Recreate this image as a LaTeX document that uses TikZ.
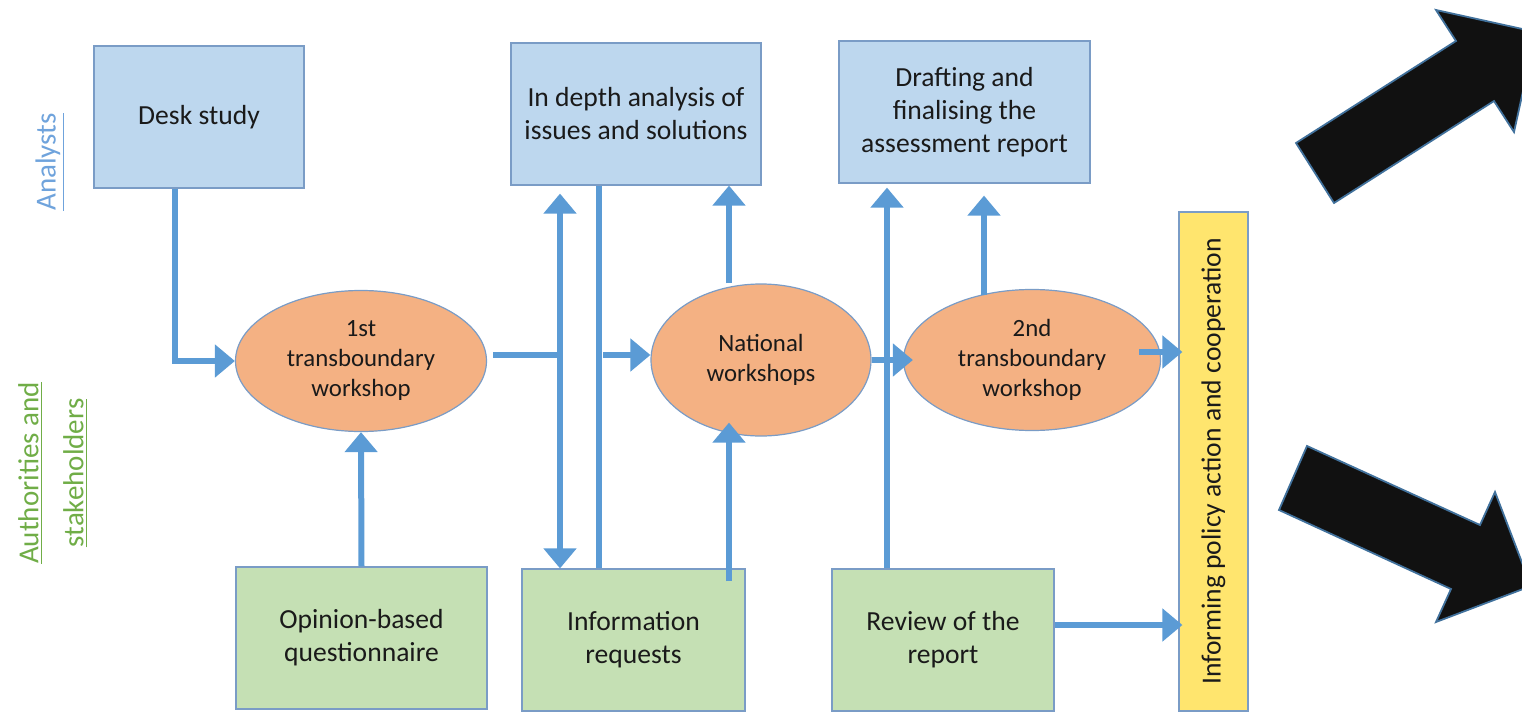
\documentclass[tikz,border=0pt]{standalone}
\usepackage{fontspec}
\setmainfont{Carlito}
\usetikzlibrary{arrows.meta,shapes.geometric,calc}
\definecolor{boxblue}{HTML}{BDD7EE}
\definecolor{boxgreen}{HTML}{C5E0B4}
\definecolor{ellorange}{HTML}{F4B183}
\definecolor{infoyellow}{HTML}{FFE56E}
\definecolor{edge}{HTML}{7A9CC6}
\definecolor{conn}{HTML}{5B9BD5}
\definecolor{labblue}{HTML}{6FA3DC}
\definecolor{labgreen}{HTML}{70AD47}
\definecolor{txt}{HTML}{1A1A1A}
\definecolor{bigarrow}{HTML}{111111}
\definecolor{bigedge}{HTML}{41719C}
\begin{document}
\begin{tikzpicture}[x=0.5pt,y=-0.5pt,
 box/.style={draw=edge, line width=0.6pt, rectangle, align=center, inner sep=2pt, text=txt, font=\fontsize{13.8}{16.5}\selectfont},
 bluebox/.style={box, fill=boxblue},
 greenbox/.style={box, fill=boxgreen},
 workshop/.style={ellipse, draw=edge, line width=0.6pt, fill=ellorange, inner sep=0pt, align=center, text=txt, font=\fontsize{12.4}{15}\selectfont},
 link/.style={draw=conn, line width=3pt},
 arr/.style={link, -{Triangle[width=16pt,length=10pt]}},
 dblarr/.style={link, {Triangle[width=16pt,length=10pt]}-{Triangle[width=16pt,length=10pt]}},
 big/.style={fill=bigarrow, draw=bigedge, line width=0.9pt, line join=miter},
 lane/.style={rotate=90, align=center, font=\fontsize{14.5}{22.5}\selectfont}
]
\useasboundingbox (0,0) rectangle (1522,712);

% lane labels
\node[lane, text=labblue] (lanea) at (50,162) {\underline{Analysts}};
\node[lane, text=labgreen] (laneb) at (53,473) {\underline{Authorities and}\\\underline{stakeholders}};

% analyst boxes
\node[bluebox, minimum width=105pt, minimum height=71pt] (desk) at (199,117) {Desk study};
\node[bluebox, minimum width=125pt, minimum height=71pt] (depth) at (636,114) {In depth analysis of\\issues and solutions};
\node[bluebox, minimum width=125.5pt, minimum height=71pt] (draft) at (964.5,112) {Drafting and\\finalising the\\assessment report};

% workshops
\node[workshop, minimum width=125.5pt, minimum height=70.5pt] (e1) at (361,361) {1st\\transboundary\\workshop};
\node[workshop, minimum width=110pt, minimum height=76pt] (nat) at (761,360) {National\\workshops};
\node[workshop, minimum width=128.5pt, minimum height=70.5pt] (e2) at (1032,360) {2nd\\transboundary\\workshop};

% stakeholder boxes
\node[greenbox, minimum width=125.5pt, minimum height=71pt] (opin) at (361.5,638) {Opinion-based\\questionnaire};
\node[greenbox, minimum width=111.5pt, minimum height=71pt] (info) at (633.5,640) {Information\\requests};
\node[greenbox, minimum width=111pt, minimum height=71pt] (review) at (943,640) {Review of the\\report};

% outcome
\node[box, fill=infoyellow, rotate=90, minimum width=249.5pt, minimum height=34.5pt] (inform) at (1213.5,461.5) {Informing policy action and cooperation};

% helper coordinates
\coordinate (j1) at (560,355);
\coordinate (j2) at (599,355);
\coordinate (a3) at (729,0);
\coordinate (a6) at (887,0);
\coordinate (a7) at (984,0);

% connectors
\draw[arr] ([xshift=-12pt]desk.south) |- (e1.west);
\draw[arr] (opin.north) -- (e1.south);
\draw[link] ([xshift=3pt]e1.east |- j1) -- (j1);
\draw[dblarr] ([yshift=-4pt]depth.south -| j1) -- (info.north -| j1);
\draw[link] (depth.south -| j2) -- (info.north -| j2);
\draw[arr] ([xshift=2pt]j2) -- (nat.west |- j2);
\draw[arr] (nat.north -| a3) -- (depth.south -| a3);
\draw[arr] ([yshift=-6.5pt]info.north -| a3) -- ([yshift=7pt]nat.south -| a3);
\draw[arr] (nat.east) -- ([xshift=5pt]e2.west);
\draw[arr] (review.north -| a6) -- ([yshift=-2pt]draft.south -| a6);
\draw[arr] ([yshift=-3pt]e2.north -| a7) -- ([yshift=-6pt]draft.south -| a7);
\draw[arr] ([xshift=-11pt,yshift=4pt]e2.east) -- ([yshift=4pt,xshift=2pt]e2.east -| inform.north);
\draw[arr] ([yshift=7.5pt]review.east) -- ([yshift=7.5pt,xshift=2pt]review.east -| inform.north);

% big black arrows
\draw[big] (1296,143) -- (1456,41) -- (1436,10) -- (1536,32) -- (1514,132) -- (1494,101) -- (1334,203) -- cycle;
\draw[big] (1307,446) -- (1480,525) -- (1495,492) -- (1531,586) -- (1436,622) -- (1451,589) -- (1279,510) -- cycle;
\end{tikzpicture}
\end{document}
